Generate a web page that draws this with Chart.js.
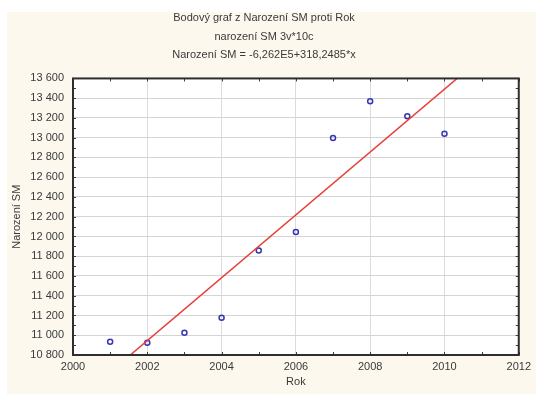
<!DOCTYPE html>
<html>
<head>
<meta charset="utf-8">
<script src="https://cdn.jsdelivr.net/npm/chart.js@4"></script>
<style>
  html, body { margin: 0; padding: 0; background: #fff; }
  #wrap { width: 536px; height: 394px; }
</style>
</head>
<body>
<div id="wrap"><canvas id="myChart" width="536" height="394"></canvas></div>
<script>
// values
const years = [2001, 2002, 2003, 2004, 2005, 2006, 2007, 2008, 2009, 2010];
const births = [10935, 10925, 11026, 11178, 11858, 12045, 12998, 13370, 13218, 13039];

// fitted line from the subtitle: Narození SM = -6,262E5 + 318,2485*x
const fitIntercept = -626188;
const fitSlope = 318.2485;
const fitRange = [2000, 2012];

const titleLines = ['Bodový graf z Narození SM proti Rok', 'narození SM 3v*10c', 'Narození SM = -6,262E5+318,2485*x'];
const xTitle = 'Rok';
const yTitle = 'Narození SM';

const xMin = 2000, xMax = 2012, xStep = 2;
const yMin = 10800, yMax = 13600, yStep = 200;

const points = years.map((y, i) => ({ x: y, y: births[i] }));
const fitLine = fitRange.map(x => ({ x: x, y: fitIntercept + fitSlope * x }));

const textColor = '#3a3a3a';
const fontFamily = 'Liberation Sans, Arial, sans-serif';

function spaced(v) {
  return String(v).replace(/\B(?=(\d{3})+(?!\d))/g, ' ');
}

// background: white strip at top/left, beige panel
const panelBg = {
  id: 'panelBg',
  beforeDraw(chart) {
    const c = chart.ctx;
    c.save();
    c.fillStyle = '#ffffff';
    c.fillRect(0, 0, chart.width, chart.height);
    c.fillStyle = '#fcf8ee';
    c.fillRect(7, 12, chart.width - 7, chart.height - 12);
    const a = chart.chartArea;
    c.fillStyle = '#ffffff';
    c.fillRect(a.left, a.top, a.right - a.left, a.bottom - a.top);
    c.restore();
  }
};

// frame and small inside ticks on all four sides
const frame = {
  id: 'frame',
  afterDraw(chart) {
    const c = chart.ctx;
    const a = chart.chartArea;
    const xs = chart.scales.x, ys = chart.scales.y;
    c.save();
    c.strokeStyle = '#3c3c3c';
    c.lineWidth = 1;
    for (let v = xMin; v <= xMax; v += xStep / 2) {
      const px = Math.round(xs.getPixelForValue(v)) + 0.5;
      c.beginPath();
      c.moveTo(px, a.top); c.lineTo(px, a.top + 3);
      c.moveTo(px, a.bottom); c.lineTo(px, a.bottom - 3);
      c.stroke();
    }
    for (let v = yMin; v <= yMax; v += yStep / 2) {
      const py = Math.round(ys.getPixelForValue(v)) + 0.5;
      c.beginPath();
      c.moveTo(a.left, py); c.lineTo(a.left + 3, py);
      c.moveTo(a.right, py); c.lineTo(a.right - 3, py);
      c.stroke();
    }
    c.lineWidth = 2;
    c.strokeStyle = '#2e2e2e';
    c.strokeRect(a.left, a.top, a.right - a.left, a.bottom - a.top);
    c.restore();
  }
};

const ctx = document.getElementById('myChart').getContext('2d');
const myChart = new Chart(ctx, {
  type: 'scatter',
  data: {
    datasets: [{
      label: 'fit',
      type: 'line',
      data: fitLine,
      borderColor: '#e5403a',
      borderWidth: 1.5,
      pointRadius: 0,
      fill: false
    }, {
      label: 'Narození SM',
      data: points,
      pointStyle: 'circle',
      pointRadius: 2.5,
      borderColor: '#3636b4',
      backgroundColor: 'rgba(255,255,255,0)',
      borderWidth: 1.5
    }]
  },
  plugins: [panelBg, frame],
  options: {
    responsive: false,
    animation: false,
    layout: { padding: { left: 7, right: 15, top: 0, bottom: 5 } },
    plugins: {
      legend: { display: false },
      tooltip: { enabled: false },
      title: {
        display: true,
        text: titleLines,
        color: textColor,
        font: { family: fontFamily, size: 11, weight: 'normal', lineHeight: 1.68 },
        padding: { top: 9, bottom: 14 }
      }
    },
    scales: {
      x: {
        type: 'linear',
        min: xMin,
        max: xMax,
        afterFit(scale) { scale.height = 34; },
        ticks: {
          stepSize: xStep,
          color: textColor,
          font: { family: fontFamily, size: 11 },
          padding: 5,
          maxRotation: 0,
          callback: v => String(v)
        },
        grid: { color: '#dcdcdc', drawTicks: false },
        border: { display: false },
        title: {
          display: true,
          text: xTitle,
          color: textColor,
          font: { family: fontFamily, size: 11 },
          padding: 0
        }
      },
      y: {
        min: yMin,
        max: yMax,
        afterFit(scale) { scale.width = 66; },
        ticks: {
          stepSize: yStep,
          color: textColor,
          font: { family: fontFamily, size: 11 },
          padding: 9,
          callback: v => spaced(v)
        },
        grid: { color: '#d4d4d4', drawTicks: false },
        border: { display: false },
        title: {
          display: true,
          text: yTitle,
          color: textColor,
          font: { family: fontFamily, size: 11 },
          padding: { top: 3, bottom: 0 }
        }
      }
    }
  }
});
</script>
</body>
</html>
